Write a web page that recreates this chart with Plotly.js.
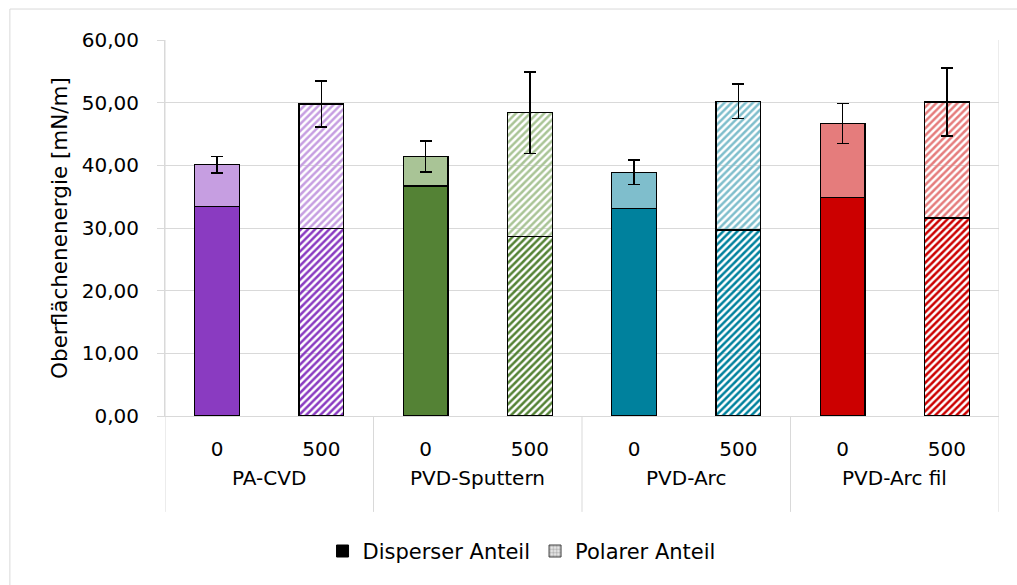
<!DOCTYPE html>
<html>
<head>
<meta charset="utf-8">
<script src="https://cdn.plot.ly/plotly-3.0.1.min.js"></script>
<style>html,body{margin:0;padding:0;background:#fff;}#chart{width:1017px;height:585px;}</style>
</head>
<body>
<div id="chart"></div>
<script>
// Data
var categories = ['PA-CVD', 'PVD-Sputtern', 'PVD-Arc', 'PVD-Arc fil'];
var doses = ['0', '500'];
// per category: [dose 0, dose 500]
var disperserAnteil = [[33.4, 29.9], [36.7, 28.6], [33.1, 29.7], [34.9, 31.6]];
var polarerAnteil   = [[6.7, 19.9], [4.7, 19.8], [5.8, 20.5], [11.8, 18.5]];
var fehler          = [[1.35, 3.65], [2.45, 6.5], [1.97, 2.75], [3.2, 5.45]];
var seriesNames = ['Disperser Anteil', 'Polarer Anteil'];

var darkColors  = ['#8A3BC1', '#548235', '#00819D', '#CC0000'];
var lightColors = ['#C69EE1', '#A9C496', '#7FBECC', '#E57C7C'];

var FONT = '"DejaVu Sans", Verdana, sans-serif';
var GRID = '#D9D9D9';

// unique category keys, tick texts = doses
var keys = [], tickText = [];
categories.forEach(function (c) { doses.forEach(function (d) { keys.push(c + ' | ' + d); tickText.push(d); }); });

function keysFor(di) { return categories.map(function (c) { return c + ' | ' + doses[di]; }); }
function col(arr, di) { return arr.map(function (r) { return r[di]; }); }

var traces = [];
// Disperser, dose 0 (solid) and dose 500 (hatched)
traces.push({ type: 'bar', name: seriesNames[0], showlegend: false,
  x: keysFor(0), y: col(disperserAnteil, 0),
  marker: { color: darkColors, line: { color: '#000', width: 1.4 } } });
traces.push({ type: 'bar', name: seriesNames[0], showlegend: false,
  x: keysFor(1), y: col(disperserAnteil, 1),
  marker: { color: darkColors, line: { color: '#000', width: 1.4 },
    pattern: { shape: '/', fgcolor: darkColors, bgcolor: '#FFFFFF', size: 5, solidity: 0.5, fillmode: 'replace' } } });
// Polar, dose 0 (solid) and dose 500 (hatched), with error bars
traces.push({ type: 'bar', name: seriesNames[1], showlegend: false,
  x: keysFor(0), y: col(polarerAnteil, 0),
  marker: { color: lightColors, line: { color: '#000', width: 1.4 } },
  error_y: { type: 'data', array: col(fehler, 0), visible: true, color: '#000', thickness: 1.5, width: 6 } });
traces.push({ type: 'bar', name: seriesNames[1], showlegend: false,
  x: keysFor(1), y: col(polarerAnteil, 1),
  marker: { color: lightColors, line: { color: '#000', width: 1.4 },
    pattern: { shape: '/', fgcolor: lightColors, bgcolor: '#FFFFFF', size: 5, solidity: 0.5, fillmode: 'replace' } },
  error_y: { type: 'data', array: col(fehler, 1), visible: true, color: '#000', thickness: 1.5, width: 6 } });

// legend-only entries
traces.push({ type: 'bar', name: seriesNames[0], x: [null], y: [null],
  marker: { color: '#000', line: { color: '#000', width: 1 } }, showlegend: true, hoverinfo: 'skip' });
traces.push({ type: 'bar', name: seriesNames[1], x: [null], y: [null],
  marker: { color: '#D0D0D0', line: { color: '#404040', width: 1 },
    pattern: { shape: '+', fgcolor: '#7F7F7F', bgcolor: '#E6E6E6', size: 4, solidity: 0.25 } },
  showlegend: true, hoverinfo: 'skip' });

// structural lines of the two-level category axis
var nCat = keys.length, perGroup = doses.length;
var shapes = [
  { type: 'rect', xref: 'paper', yref: 'paper', x0: -0.186, x1: 1.03, y0: -0.46, y1: 1.0824,
    line: { color: GRID, width: 1 }, fillcolor: 'rgba(0,0,0,0)', layer: 'below' }
];
for (var g = 0; g <= categories.length; g++) {
  var edge = (g === 0 || g === categories.length);
  shapes.push({ type: 'line', xref: 'x', yref: 'paper', x0: g * perGroup - 0.5, x1: g * perGroup - 0.5,
    y0: edge ? 1 : 0, y1: -0.255, line: { color: GRID, width: 1 }, layer: 'below' });
}
var annotations = categories.map(function (c, ci) {
  return { xref: 'x', yref: 'paper', x: ci * perGroup + (perGroup - 1) / 2, y: -0.165, yanchor: 'middle',
    text: c, showarrow: false, font: { family: FONT, size: 20, color: '#000' } };
});

var layout = {
  width: 1017, height: 585,
  margin: { l: 165, r: 18, t: 40, b: 169 },
  paper_bgcolor: '#FFFFFF', plot_bgcolor: '#FFFFFF',
  font: { family: FONT, size: 20, color: '#000' },
  barmode: 'stack', bargap: 0.57,
  showlegend: true,
  legend: { orientation: 'h', x: 0.4275, xanchor: 'center', y: -0.36, yanchor: 'middle',
    font: { family: FONT, size: 21, color: '#000' }, traceorder: 'normal' },
  xaxis: {
    type: 'category', categoryorder: 'array', categoryarray: keys,
    range: [-0.5, nCat - 0.5],
    tickvals: keys, ticktext: tickText,
    showline: true, linecolor: GRID, linewidth: 1, showgrid: false,
    ticks: '', tickfont: { family: FONT, size: 20, color: '#000' },
    ticklabelstandoff: 15, automargin: false, fixedrange: true
  },
  yaxis: {
    range: [0, 60], dtick: 10, tickformat: '.2f',
    showgrid: true, gridcolor: GRID, gridwidth: 1, zeroline: false,
    showline: true, linecolor: GRID, linewidth: 1,
    ticks: 'outside', ticklen: 7, tickcolor: GRID, tickwidth: 1,
    ticklabelstandoff: 14,
    tickfont: { family: FONT, size: 20, color: '#000' },
    title: { text: 'Oberflächenenergie [mN/m]', font: { family: FONT, size: 21.5, color: '#000' }, standoff: 8 },
    automargin: false, fixedrange: true
  },
  separators: ',.',
  shapes: shapes,
  annotations: annotations
};

Plotly.newPlot('chart', traces, layout, { displayModeBar: false, staticPlot: true });
</script>
</body>
</html>
